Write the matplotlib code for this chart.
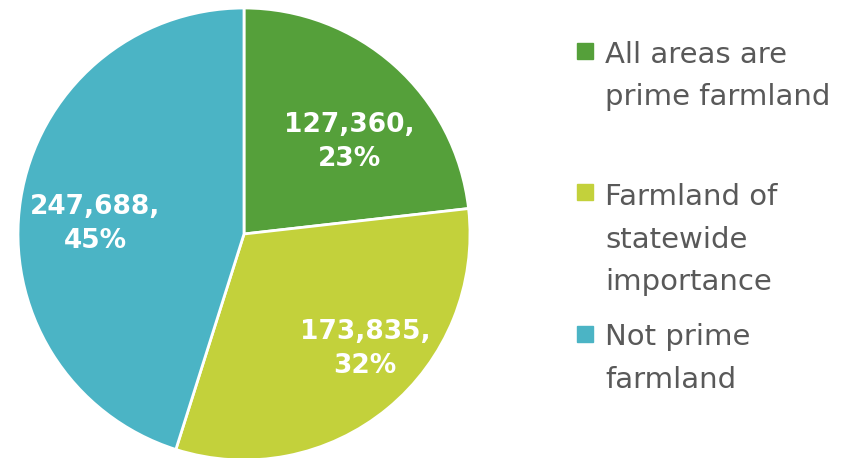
import matplotlib.pyplot as plt
import numpy as np

categories = ['All areas are\nprime farmland', 'Farmland of\nstatewide\nimportance', 'Not prime\nfarmland']
values = [127360, 173835, 247688]
percents = ['23%', '32%', '45%']
colors = ['#55A03A', '#C3D13B', '#4BB4C5']

# label placement tweaks (radius fraction, angle nudge in degrees)
label_r = [0.62, 0.74, 0.66]
label_nudge = [-7, 7, 5]

W, H = 867, 458
fig = plt.figure(figsize=(W / 100, H / 100), dpi=100)
fig.patch.set_facecolor('white')

# pie axes in pixel terms: center ~ (244, 234), radius ~226
cx, cy, r = 244, 234, 226
ax = fig.add_axes([(cx - r) / W, (H - cy - r) / H, 2 * r / W, 2 * r / H])
wedges, _ = ax.pie(values, colors=colors, startangle=90, counterclock=False,
                   wedgeprops=dict(edgecolor='white', linewidth=2), radius=1)
ax.set_xlim(-1, 1)
ax.set_ylim(-1, 1)
ax.set_aspect('equal')
ax.axis('off')

for w, v, p, rr, dn in zip(wedges, values, percents, label_r, label_nudge):
    mid = np.deg2rad((w.theta1 + w.theta2) / 2 + dn)
    ax.text(rr * np.cos(mid), rr * np.sin(mid), f'{v:,},\n{p}',
            ha='center', va='center', color='white', fontsize=19,
            fontweight='bold', family='DejaVu Sans', linespacing=1.4)

# legend drawn by hand
legend_baselines = [[63, 105], [205, 248, 290], [345, 388]]
square_tops = [43, 184, 326]
for cat, col, bls, st in zip(categories, colors, legend_baselines, square_tops):
    fig.patches.append(plt.Rectangle((577 / W, 1 - (st + 16) / H), 16 / W, 16 / H,
                                     transform=fig.transFigure, color=col))
    for line, bl in zip(cat.split('\n'), bls):
        fig.text(605 / W, 1 - bl / H, line, ha='left', va='baseline',
                 fontsize=21, color='#595959', family='DejaVu Sans')

fig.savefig('out.png', dpi=100, facecolor='white')
